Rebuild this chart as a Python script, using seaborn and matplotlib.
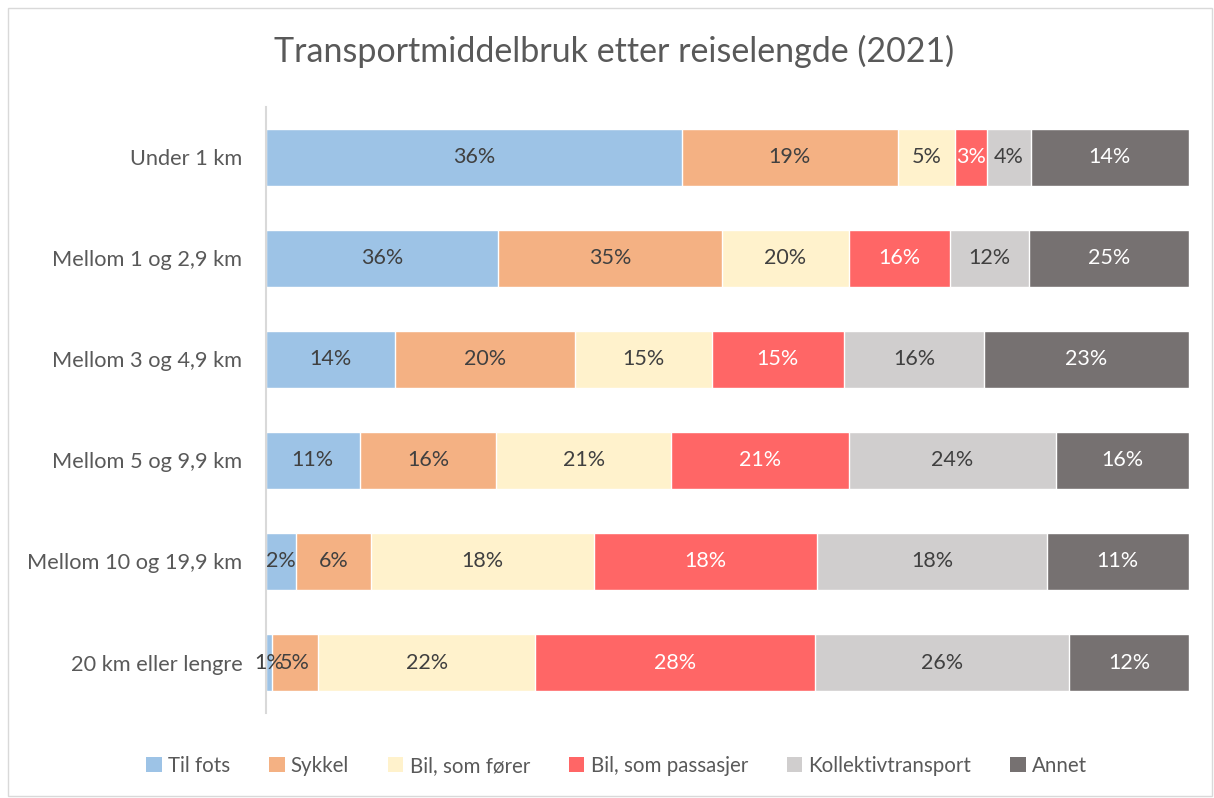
import numpy as np
import pandas as pd
import matplotlib
matplotlib.use("Agg")
import matplotlib.pyplot as plt
from matplotlib.patches import Patch, Rectangle
import seaborn as sns

sns.set_style("white")
plt.rcParams["font.family"] = ["Lato", "DejaVu Sans"]

CATEGORIES = ["Under 1 km", "Mellom 1 og 2,9 km", "Mellom 3 og 4,9 km",
              "Mellom 5 og 9,9 km", "Mellom 10 og 19,9 km", "20 km eller lengre"]
SERIES = ["Til fots", "Sykkel", "Bil, som fører", "Bil, som passasjer",
          "Kollektivtransport", "Annet"]

til_fots = [36.5, 36.2, 14.4, 11.1, 2.4, 0.6]
sykkel = [19.0, 34.9, 20.1, 16.1, 5.9, 4.7]
bil_forer = [5.0, 19.8, 15.3, 20.7, 17.7, 22.1]
bil_passasjer = [2.8, 15.8, 14.7, 21.0, 17.6, 28.4]
kollektiv = [3.9, 12.4, 15.7, 24.4, 18.2, 25.9]
annet = [13.8, 24.8, 22.8, 15.7, 11.2, 12.1]

COLORS = ["#9DC3E6", "#F4B183", "#FFF2CC", "#FF6666", "#D0CECE", "#767171"]
TEXT_COLORS = ["#404040", "#404040", "#404040", "white", "#404040", "white"]

df = pd.DataFrame(
    np.array([til_fots, sykkel, bil_forer, bil_passasjer, kollektiv, annet]).T,
    index=CATEGORIES, columns=SERIES,
)
# bars fill the full width, labels keep the raw values
share = df.div(df.sum(axis=1), axis=0)
cum = share.cumsum(axis=1)

fig = plt.figure(figsize=(12.14, 7.98), dpi=100)
ax = fig.add_axes([0.219, 0.1065, 0.76, 0.7595])

# draw cumulative totals from the last series backwards so shorter bars sit on top
for i in range(len(SERIES) - 1, -1, -1):
    plot_df = pd.DataFrame({"cat": CATEGORIES, "val": cum[SERIES[i]].values})
    sns.barplot(data=plot_df, x="val", y="cat", order=CATEGORIES, orient="h",
                color=COLORS[i], saturation=1, width=0.57, edgecolor="white",
                linewidth=1, ax=ax)

for r, cat in enumerate(CATEGORIES):
    for i, s in enumerate(SERIES):
        left = cum[s][cat] - share[s][cat]
        center = left + share[s][cat] / 2
        ax.text(center, r, f"{df[s][cat]:.0f}%", ha="center", va="center",
                fontsize=15.5, color=TEXT_COLORS[i])

ax.set_xlim(0, 1)
ax.set_ylim(len(CATEGORIES) - 0.5, -0.5)
ax.set_xlabel("")
ax.set_ylabel("")
ax.set_xticks([])
ax.tick_params(axis="y", length=0, pad=17, labelsize=15.7, labelcolor="#595959")
for side in ["top", "right", "bottom"]:
    ax.spines[side].set_visible(False)
ax.spines["left"].set_color("#D9D9D9")
ax.spines["left"].set_linewidth(1.5)

fig.text(0.506, 0.935, "Transportmiddelbruk etter reiselengde (2021)",
         ha="center", va="center", fontsize=24.5, color="#595959")

handles = [Patch(facecolor=c, edgecolor="none", label=s) for c, s in zip(COLORS, SERIES)]
fig.legend(handles=handles, loc="center", bbox_to_anchor=(0.508, 0.04), ncol=6,
           frameon=False, fontsize=14.8, handlelength=0.75, handleheight=0.75,
           handletextpad=0.3, columnspacing=1.9, labelcolor="#595959")

fig.patches.append(Rectangle((0.007, 0.003), 0.991, 0.987, transform=fig.transFigure,
                             fill=False, edgecolor="#D9D9D9", linewidth=1))

fig.savefig("out.png", dpi=100)
